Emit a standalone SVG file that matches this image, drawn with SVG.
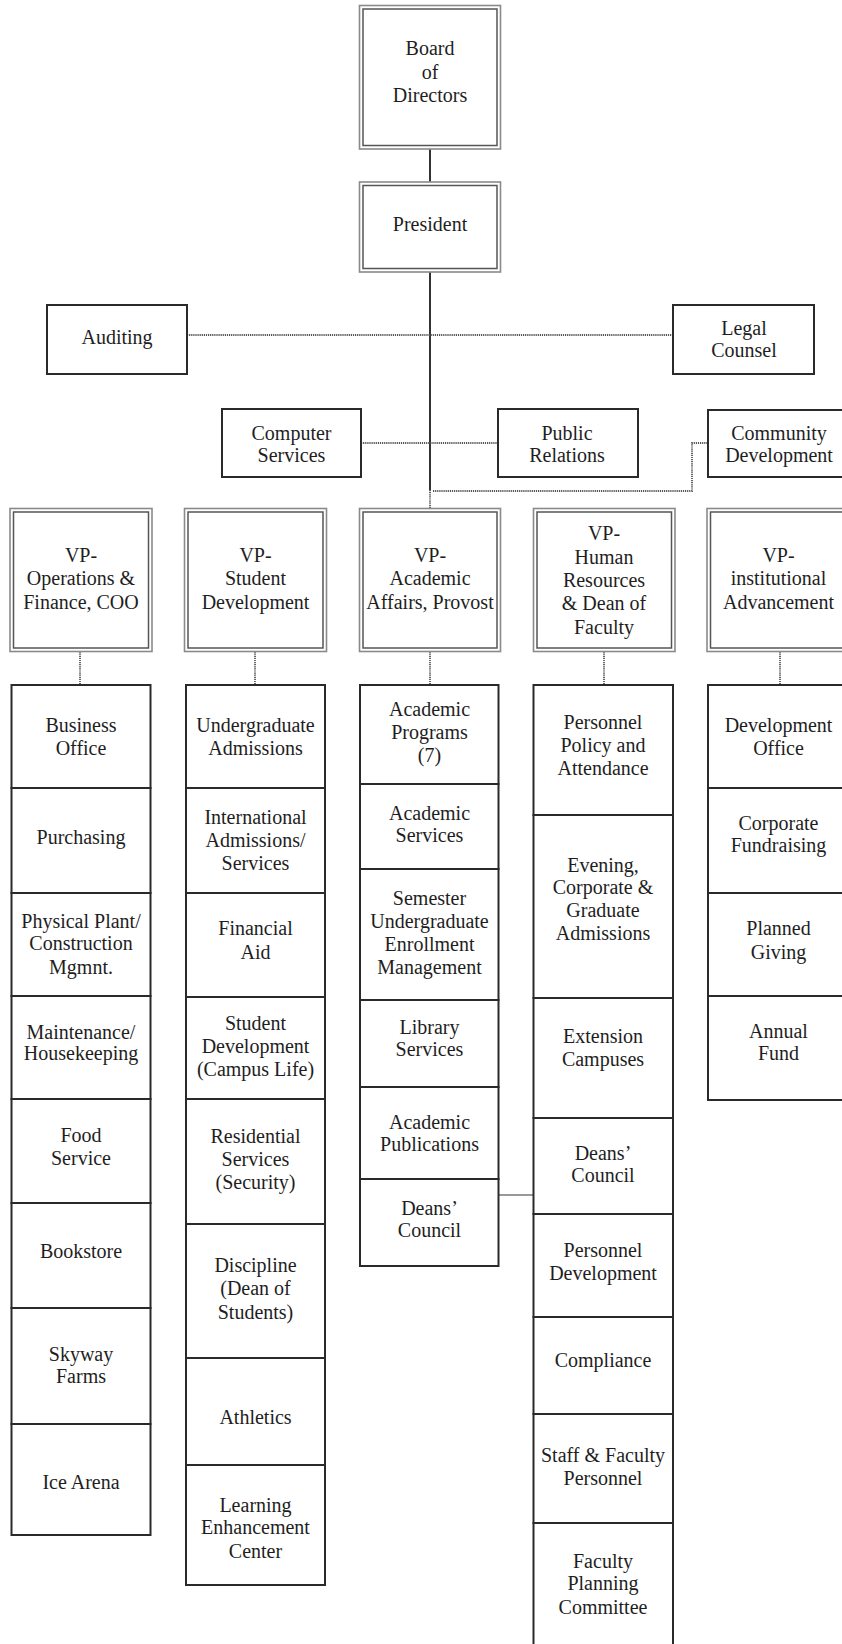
<svg xmlns="http://www.w3.org/2000/svg" width="842" height="1644" viewBox="0 0 842 1644" font-family="Liberation Serif, serif">
<style>
text{font-family:'Liberation Serif',serif;font-size:20px;fill:#1e1e1e;text-anchor:middle}
.o{fill:#fff;stroke:#8a8a8a;stroke-width:1.6}
.i{fill:none;stroke:#555;stroke-width:1.5}
.b{fill:#fff;stroke:#2a2a2a;stroke-width:2}
.s{fill:none;stroke:#333;stroke-width:2}
.d{fill:none;stroke:#555;stroke-width:1.8;stroke-dasharray:1.2 0.9}
.g{fill:none;stroke:#999;stroke-width:2}
</style>
<rect width="842" height="1644" fill="#fff"/>
<g id="connectors">
<line class="s" x1="430" y1="149" x2="430" y2="182"/>
<line class="s" x1="430" y1="272" x2="430" y2="490"/>
<line class="d" x1="430" y1="490" x2="430" y2="508.5"/>
<line class="d" x1="187" y1="335" x2="673" y2="335"/>
<line class="d" x1="361" y1="443" x2="498" y2="443"/>
<path class="d" d="M433 491 H692 V443 H708"/>
<line class="d" x1="80" y1="651.5" x2="80" y2="685"/>
<line class="d" x1="255" y1="651.5" x2="255" y2="685"/>
<line class="d" x1="430" y1="651.5" x2="430" y2="685"/>
<line class="d" x1="604" y1="651.5" x2="604" y2="685"/>
<line class="d" x1="780" y1="651.5" x2="780" y2="685"/>
<line class="g" x1="498.5" y1="1195" x2="533.5" y2="1195"/>
</g>
<g id="board">
<rect class="o" x="359.5" y="5.5" width="141" height="143.5"/>
<rect class="i" x="363" y="9" width="134" height="136.5"/>
<text><tspan x="430" y="55">Board</tspan><tspan x="430" y="78.5">of</tspan><tspan x="430" y="102">Directors</tspan></text>
</g>
<g id="president">
<rect class="o" x="359.5" y="182" width="141" height="90"/>
<rect class="i" x="363" y="185.5" width="134" height="83"/>
<text x="430" y="231">President</text>
</g>
<g id="auditing">
<rect class="b" x="47" y="305" width="140" height="69"/>
<text x="117" y="343.5">Auditing</text>
</g>
<g id="legal">
<rect class="b" x="673" y="305" width="141" height="69"/>
<text><tspan x="744" y="335">Legal</tspan><tspan x="744" y="357">Counsel</tspan></text>
</g>
<g id="computer">
<rect class="b" x="222" y="409" width="139" height="68"/>
<text><tspan x="291.5" y="440">Computer</tspan><tspan x="291.5" y="462">Services</tspan></text>
</g>
<g id="publicrel">
<rect class="b" x="498" y="409" width="140" height="68"/>
<text><tspan x="567" y="440">Public</tspan><tspan x="567" y="462">Relations</tspan></text>
</g>
<g id="community">
<rect class="b" x="708" y="410" width="142" height="67"/>
<text><tspan x="779" y="440">Community</tspan><tspan x="779" y="462">Development</tspan></text>
</g>
<g id="vp-ops">
<rect class="o" x="10" y="508.5" width="142" height="143"/>
<rect class="i" x="13.5" y="512" width="135" height="136"/>
<text><tspan x="81" y="562">VP-</tspan><tspan x="81" y="585.3">Operations &amp;</tspan><tspan x="81" y="608.7">Finance, COO</tspan></text>
</g>
<g id="vp-student">
<rect class="o" x="184.5" y="508.5" width="142" height="143"/>
<rect class="i" x="188" y="512" width="135" height="136"/>
<text><tspan x="255.5" y="562">VP-</tspan><tspan x="255.5" y="585.3">Student</tspan><tspan x="255.5" y="608.7">Development</tspan></text>
</g>
<g id="vp-academic">
<rect class="o" x="359.5" y="508.5" width="141" height="143"/>
<rect class="i" x="363" y="512" width="134" height="136"/>
<text><tspan x="430" y="562">VP-</tspan><tspan x="430" y="585.3">Academic</tspan><tspan x="430" y="608.7">Affairs, Provost</tspan></text>
</g>
<g id="vp-hr">
<rect class="o" x="533.5" y="508.5" width="141.5" height="143"/>
<rect class="i" x="537" y="512" width="134.5" height="136"/>
<text><tspan x="604" y="540.3">VP-</tspan><tspan x="604" y="563.7">Human</tspan><tspan x="604" y="587">Resources</tspan><tspan x="604" y="609.7">&amp; Dean of</tspan><tspan x="604" y="633.7">Faculty</tspan></text>
</g>
<g id="vp-inst">
<rect class="o" x="707" y="508.5" width="143" height="143"/>
<rect class="i" x="710.5" y="512" width="136" height="136"/>
<text><tspan x="778.5" y="562">VP-</tspan><tspan x="778.5" y="585.3">institutional</tspan><tspan x="778.5" y="608.7">Advancement</tspan></text>
</g>
<g id="col-ops">
<rect class="b" x="11.5" y="685" width="139" height="103"/>
<rect class="b" x="11.5" y="788" width="139" height="105"/>
<rect class="b" x="11.5" y="893" width="139" height="103"/>
<rect class="b" x="11.5" y="996" width="139" height="103"/>
<rect class="b" x="11.5" y="1099" width="139" height="104"/>
<rect class="b" x="11.5" y="1203" width="139" height="105"/>
<rect class="b" x="11.5" y="1308" width="139" height="116"/>
<rect class="b" x="11.5" y="1424" width="139" height="111"/>
<text><tspan x="81" y="732">Business</tspan><tspan x="81" y="755.3">Office</tspan></text>
<text x="81" y="844">Purchasing</text>
<text><tspan x="81" y="928">Physical Plant/</tspan><tspan x="81" y="950.3">Construction</tspan><tspan x="81" y="973.7">Mgmnt.</tspan></text>
<text><tspan x="81" y="1038.7">Maintenance/</tspan><tspan x="81" y="1060.3">Housekeeping</tspan></text>
<text><tspan x="81" y="1142">Food</tspan><tspan x="81" y="1165.3">Service</tspan></text>
<text x="81" y="1258">Bookstore</text>
<text><tspan x="81" y="1361">Skyway</tspan><tspan x="81" y="1383">Farms</tspan></text>
<text x="81" y="1488.7">Ice Arena</text>
</g>
<g id="col-student">
<rect class="b" x="186" y="685" width="139" height="103"/>
<rect class="b" x="186" y="788" width="139" height="105"/>
<rect class="b" x="186" y="893" width="139" height="104"/>
<rect class="b" x="186" y="997" width="139" height="102"/>
<rect class="b" x="186" y="1099" width="139" height="125"/>
<rect class="b" x="186" y="1224" width="139" height="134"/>
<rect class="b" x="186" y="1358" width="139" height="107"/>
<rect class="b" x="186" y="1465" width="139" height="120"/>
<text><tspan x="255.5" y="732">Undergraduate</tspan><tspan x="255.5" y="755.3">Admissions</tspan></text>
<text><tspan x="255.5" y="823.7">International</tspan><tspan x="255.5" y="847">Admissions/</tspan><tspan x="255.5" y="870.3">Services</tspan></text>
<text><tspan x="255.5" y="935.3">Financial</tspan><tspan x="255.5" y="958.7">Aid</tspan></text>
<text><tspan x="255.5" y="1029.7">Student</tspan><tspan x="255.5" y="1053">Development</tspan><tspan x="255.5" y="1076.3">(Campus Life)</tspan></text>
<text><tspan x="255.5" y="1143">Residential</tspan><tspan x="255.5" y="1166.3">Services</tspan><tspan x="255.5" y="1188.7">(Security)</tspan></text>
<text><tspan x="255.5" y="1272">Discipline</tspan><tspan x="255.5" y="1295.3">(Dean of</tspan><tspan x="255.5" y="1318.7">Students)</tspan></text>
<text x="255.5" y="1423.7">Athletics</text>
<text><tspan x="255.5" y="1512">Learning</tspan><tspan x="255.5" y="1534.3">Enhancement</tspan><tspan x="255.5" y="1557.7">Center</tspan></text>
</g>
<g id="col-academic">
<rect class="b" x="360" y="685" width="138.5" height="99"/>
<rect class="b" x="360" y="784" width="138.5" height="85"/>
<rect class="b" x="360" y="869" width="138.5" height="131"/>
<rect class="b" x="360" y="1000" width="138.5" height="87"/>
<rect class="b" x="360" y="1087" width="138.5" height="92"/>
<rect class="b" x="360" y="1179" width="138.5" height="87"/>
<text><tspan x="429.5" y="716.3">Academic</tspan><tspan x="429.5" y="739">Programs</tspan><tspan x="429.5" y="762">(7)</tspan></text>
<text><tspan x="429.5" y="820.3">Academic</tspan><tspan x="429.5" y="842">Services</tspan></text>
<text><tspan x="429.5" y="905.3">Semester</tspan><tspan x="429.5" y="928">Undergraduate</tspan><tspan x="429.5" y="951">Enrollment</tspan><tspan x="429.5" y="973.7">Management</tspan></text>
<text><tspan x="429.5" y="1033.7">Library</tspan><tspan x="429.5" y="1056.3">Services</tspan></text>
<text><tspan x="429.5" y="1128.7">Academic</tspan><tspan x="429.5" y="1151">Publications</tspan></text>
<text><tspan x="429.5" y="1215.3">Deans’</tspan><tspan x="429.5" y="1237">Council</tspan></text>
</g>
<g id="col-hr">
<rect class="b" x="533.5" y="685" width="139.5" height="130"/>
<rect class="b" x="533.5" y="815" width="139.5" height="183"/>
<rect class="b" x="533.5" y="998" width="139.5" height="120"/>
<rect class="b" x="533.5" y="1118" width="139.5" height="96"/>
<rect class="b" x="533.5" y="1214" width="139.5" height="103"/>
<rect class="b" x="533.5" y="1317" width="139.5" height="97"/>
<rect class="b" x="533.5" y="1414" width="139.5" height="109"/>
<rect class="b" x="533.5" y="1523" width="139.5" height="130"/>
<text><tspan x="603" y="728.7">Personnel</tspan><tspan x="603" y="752">Policy and</tspan><tspan x="603" y="775.3">Attendance</tspan></text>
<text><tspan x="603" y="872">Evening,</tspan><tspan x="603" y="893.7">Corporate &amp;</tspan><tspan x="603" y="917">Graduate</tspan><tspan x="603" y="939.7">Admissions</tspan></text>
<text><tspan x="603" y="1043">Extension</tspan><tspan x="603" y="1066.3">Campuses</tspan></text>
<text><tspan x="603" y="1160.3">Deans’</tspan><tspan x="603" y="1182">Council</tspan></text>
<text><tspan x="603" y="1257">Personnel</tspan><tspan x="603" y="1280.3">Development</tspan></text>
<text x="603" y="1367">Compliance</text>
<text><tspan x="603" y="1462">Staff &amp; Faculty</tspan><tspan x="603" y="1485.3">Personnel</tspan></text>
<text><tspan x="603" y="1568">Faculty</tspan><tspan x="603" y="1590.3">Planning</tspan><tspan x="603" y="1613.7">Committee</tspan></text>
</g>
<g id="col-inst">
<rect class="b" x="708" y="685" width="142" height="103"/>
<rect class="b" x="708" y="788" width="142" height="105"/>
<rect class="b" x="708" y="893" width="142" height="103"/>
<rect class="b" x="708" y="996" width="142" height="104"/>
<text><tspan x="778.5" y="732">Development</tspan><tspan x="778.5" y="755.3">Office</tspan></text>
<text><tspan x="778.5" y="830.3">Corporate</tspan><tspan x="778.5" y="852">Fundraising</tspan></text>
<text><tspan x="778.5" y="935.3">Planned</tspan><tspan x="778.5" y="958.7">Giving</tspan></text>
<text><tspan x="778.5" y="1037.7">Annual</tspan><tspan x="778.5" y="1059.7">Fund</tspan></text>
</g>
</svg>
